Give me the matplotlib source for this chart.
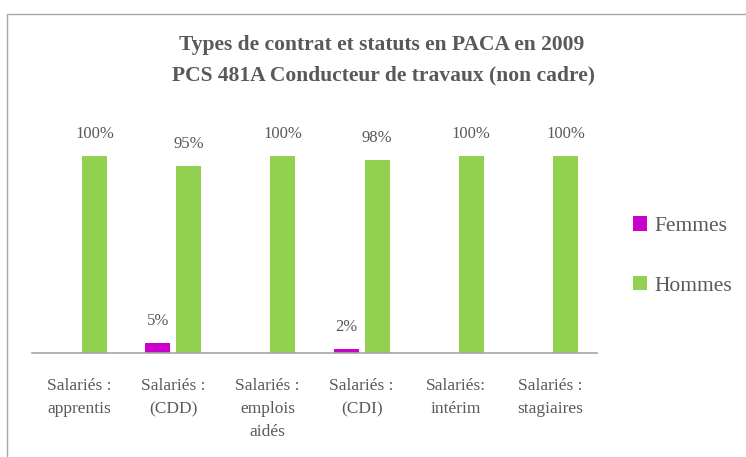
import numpy as np
import matplotlib.pyplot as plt
from matplotlib.patches import Rectangle

categories = ["Salariés :\napprentis", "Salariés :\n(CDD)", "Salariés :\nemplois\naidés",
              "Salariés :\n(CDI)", "Salariés:\nintérim", "Salariés :\nstagiaires"]
femmes = [0, 5, 0, 2, 0, 0]
hommes = [100, 95, 100, 98, 100, 100]

plt.rcParams['font.family'] = ['Liberation Serif', 'DejaVu Serif']
grey = '#595959'

fig = plt.figure(figsize=(7.46, 4.57), dpi=100)
fig.patches.append(Rectangle((7 / 746, -0.1), 1.1, 1 - 14 / 457 + 0.1, transform=fig.transFigure,
                             fill=False, edgecolor='#a6a6a6', linewidth=1.0))
ax = fig.add_axes([32 / 746, 104 / 457, 565 / 746, 197 / 457])

x = np.arange(len(categories))
w = 0.265
off = 0.165
b1 = ax.bar(x - off, femmes, w, color='#CC00CC', label='Femmes')
b2 = ax.bar(x + off, hommes, w, color='#92D050', label='Hommes')

for bars, vals in ((b1, femmes), (b2, hommes)):
    for r, v in zip(bars, vals):
        if v > 0:
            ax.text(r.get_x() + r.get_width() / 2, v + 7, f"{v}%", ha='center', va='bottom',
                    fontsize=12, color=grey, clip_on=False)

ax.set_xlim(-0.5, len(categories) - 0.5)
ax.set_ylim(0, 100)
ax.set_yticks([])
ax.set_xticks(x)
ax.set_xticklabels(categories, fontsize=12.5, color=grey, linespacing=1.6)
ax.tick_params(axis='x', length=0, pad=18)
for s in ('top', 'right', 'left'):
    ax.spines[s].set_visible(False)
ax.spines['bottom'].set_color('#a6a6a6')
ax.spines['bottom'].set_linewidth(1.2)

fig.text(382 / 746, 1 - 45 / 457, "Types de contrat et statuts en PACA en 2009", ha='center', va='center',
         fontsize=15.5, fontweight='bold', color=grey)
fig.text(384 / 746, 1 - 75 / 457, "PCS 481A Conducteur de travaux (non cadre)", ha='center', va='center',
         fontsize=15.5, fontweight='bold', color=grey)

fig.legend(handles=[b1, b2], loc='center left', bbox_to_anchor=(633 / 746, 1 - 256 / 457),
           frameon=False, fontsize=15.5, labelcolor=grey, handlelength=0.65, handleheight=0.65,
           handletextpad=0.35, labelspacing=1.85, borderpad=0, borderaxespad=0)

fig.savefig('out.png', dpi=100)
